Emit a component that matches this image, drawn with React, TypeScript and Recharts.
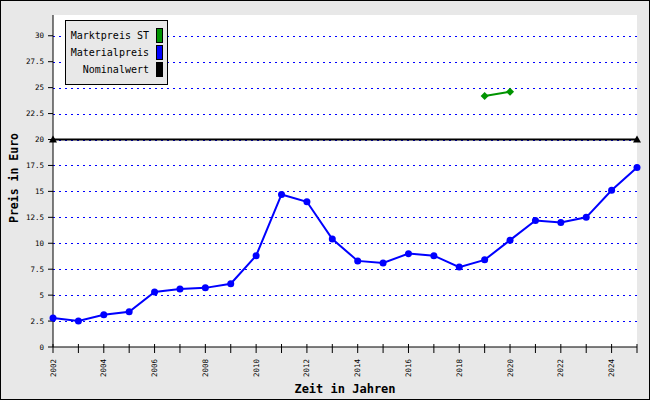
import { ComposedChart, Line, XAxis, YAxis, CartesianGrid, Label } from "recharts"

document.body.style.margin = "0"

const FONT = '"DejaVu Sans Mono", monospace'
const BG = "#e8e8e8"
const GRID_BLUE = "#0000ff"
const Y_MAX = 32

const years = [
  2002, 2003, 2004, 2005, 2006, 2007, 2008, 2009, 2010, 2011, 2012, 2013,
  2014, 2015, 2016, 2017, 2018, 2019, 2020, 2021, 2022, 2023, 2024, 2025,
]
const materialpreis = [
  2.8, 2.5, 3.1, 3.4, 5.3, 5.6, 5.7, 6.1, 8.8, 14.7, 14.0, 10.4,
  8.3, 8.1, 9.0, 8.8, 7.7, 8.4, 10.3, 12.2, 12.0, 12.5, 15.1, 17.3,
]
const marktYears = [2019, 2020]
const marktpreis = [24.2, 24.6]
const nominalYears = [2002, 2025]
const nominalwert = [20, 20]
const yTicks = [0, 2.5, 5, 7.5, 10, 12.5, 15, 17.5, 20, 22.5, 25, 27.5, 30]

const materialData = years.map((year, i) => ({ year, value: materialpreis[i] }))
const marktData = marktYears.map((year, i) => ({ year, value: marktpreis[i] }))
const nominalData = nominalYears.map((year, i) => ({ year, value: nominalwert[i] }))

const legendItems = [
  { name: "Marktpreis ST", color: "#009400" },
  { name: "Materialpreis", color: "#0000ff" },
  { name: "Nominalwert", color: "#000000" },
]

function gridLines({ yAxis, offset }: any) {
  return yTicks
    .filter((t) => t > 0)
    .map((t) =>
      typeof yAxis?.scale === "function"
        ? yAxis.scale(t)
        : offset.top + offset.height * (1 - t / Y_MAX)
    )
}

function GridLine({ x1, x2, y1 }: any) {
  const y = Math.round(y1) + 0.5
  return (
    <line x1={x1} x2={x2} y1={y} y2={y} stroke={GRID_BLUE} strokeWidth={1} strokeDasharray="2 4" />
  )
}

function XTick({ x, y, payload }: any) {
  const year = payload.value
  return (
    <g>
      <line x1={x} x2={x} y1={y - 3} y2={y + 6} stroke="#000" />
      {year % 2 === 0 && (
        <text
          x={x}
          y={y + 12}
          transform={`rotate(-90 ${x} ${y + 12})`}
          textAnchor="end"
          dominantBaseline="central"
          fontSize={7.5}
          fontFamily={FONT}
          fill="#000"
        >
          {year}
        </text>
      )}
    </g>
  )
}

function DiamondDot({ cx, cy }: any) {
  if (cx == null || cy == null) return null
  return (
    <path d={`M${cx - 4},${cy} L${cx},${cy - 4} L${cx + 4},${cy} L${cx},${cy + 4} Z`} fill="#009400" />
  )
}

function TriangleDot({ cx, cy }: any) {
  if (cx == null || cy == null) return null
  return <path d={`M${cx - 4},${cy + 3} L${cx},${cy - 4} L${cx + 4},${cy + 3} Z`} fill="#000" />
}

export default function App() {
  return (
    <div
      style={{
        position: "relative",
        width: 650,
        height: 400,
        boxSizing: "border-box",
        border: "1px solid #000",
        background: BG,
      }}
    >
      <ComposedChart width={648} height={398} margin={{ top: 14, right: 12, bottom: 12, left: 7 }}>
        <CartesianGrid
          vertical={false}
          horizontal={<GridLine />}
          fill="#fff"
          stroke={GRID_BLUE}
          horizontalCoordinatesGenerator={gridLines}
        />
        <XAxis
          dataKey="year"
          type="number"
          domain={[2002, 2025]}
          ticks={years}
          interval={0}
          height={40}
          tickSize={0}
          tickMargin={0}
          tick={<XTick />}
          stroke="#000"
        >
          <Label
            content={({ viewBox }: any) => (
              <text
                x={viewBox.x + viewBox.width / 2}
                y={viewBox.y + 46}
                textAnchor="middle"
                fontSize={12}
                fontWeight="bold"
                fontFamily={FONT}
                fill="#000"
              >
                Zeit in Jahren
              </text>
            )}
          />
        </XAxis>
        <YAxis
          type="number"
          domain={[0, Y_MAX]}
          ticks={yTicks}
          width={45}
          tickSize={5}
          tickMargin={4}
          stroke="#000"
          tick={{ fontSize: 7.5, fontFamily: FONT, fill: "#000" }}
        >
          <Label
            content={({ viewBox }: any) => {
              const cx = 13
              const cy = viewBox.y + viewBox.height / 2 - 3
              return (
                <text
                  x={cx}
                  y={cy}
                  transform={`rotate(-90 ${cx} ${cy})`}
                  textAnchor="middle"
                  dominantBaseline="central"
                  fontSize={11.5}
                  fontWeight="bold"
                  fontFamily={FONT}
                  fill="#000"
                >
                  Preis in Euro
                </text>
              )
            }}
          />
        </YAxis>
        <Line
          data={nominalData}
          dataKey="value"
          stroke="#000"
          strokeWidth={2}
          dot={<TriangleDot />}
          isAnimationActive={false}
        />
        <Line
          data={materialData}
          dataKey="value"
          stroke="#0000ff"
          strokeWidth={2}
          dot={{ r: 3.5, fill: "#0000ff", stroke: "none" }}
          isAnimationActive={false}
        />
        <Line
          data={marktData}
          dataKey="value"
          stroke="#009400"
          strokeWidth={2}
          dot={<DiamondDot />}
          isAnimationActive={false}
        />
      </ComposedChart>
      <div
        style={{
          position: "absolute",
          left: 64,
          top: 19,
          width: 103,
          height: 65,
          boxSizing: "border-box",
          border: "1px solid #000",
          background: BG,
          fontFamily: FONT,
          fontSize: 10,
        }}
      >
        {legendItems.map((item, i) => (
          <div
            key={item.name}
            style={{
              position: "absolute",
              right: 4,
              top: 7 + i * 17,
              height: 15,
              display: "flex",
              alignItems: "center",
              gap: 7,
              whiteSpace: "nowrap",
            }}
          >
            <span>{item.name}</span>
            <span
              style={{
                width: 7,
                height: 15,
                boxSizing: "border-box",
                border: "1px solid #000",
                background: item.color,
              }}
            />
          </div>
        ))}
      </div>
    </div>
  )
}
